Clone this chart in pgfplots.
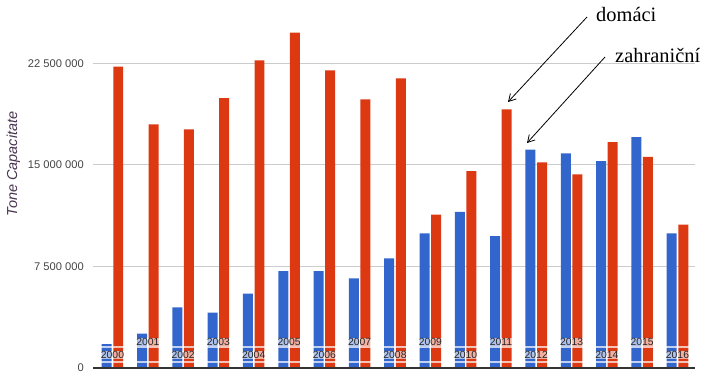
\documentclass[border=0pt]{standalone}
\usepackage{fontspec}
\setmainfont{Liberation Sans}
\newfontfamily\timesfont{Liberation Serif}
\usepackage{pgfplots}
\pgfplotsset{compat=1.18}
\usetikzlibrary{arrows.meta}
\definecolor{gblue}{HTML}{3366CC}
\definecolor{gred}{HTML}{DC3912}
\definecolor{gridc}{HTML}{CCCCCC}
\definecolor{ticklab}{HTML}{444444}
\definecolor{ylab}{HTML}{4A3352}
\definecolor{basec}{HTML}{333333}
\begin{document}
\begin{tikzpicture}[x=1bp,y=1bp]
\useasboundingbox (0,0) rectangle (721,381);
\tikzset{yl/.style={fill=white, fill opacity=0.6, text opacity=1, inner sep=0.8bp,
  font=\fontsize{10.4}{11}\selectfont, text=black!85}}
\begin{axis}[
  at={(93bp,13bp)}, anchor=south west,
  scale only axis, width=602bp, height=368bp,
  xmin=-0.552, xmax=16.496, ymin=0, ymax=27165000,
  clip=false,
  axis line style={draw=none},
  xtick=\empty,
  ytick={0,7500000,15000000,22500000},
  yticklabels={0,7 500 000,15 000 000,22 500 000},
  scaled y ticks=false,
  ymajorgrids,
  major grid style={gridc, line width=1bp},
  tick style={draw=none},
  major tick length=0pt,
  yticklabel style={font=\fontsize{11.2}{12}\selectfont, text=ticklab, inner sep=0pt, anchor=east, xshift=-9bp},
]
\addplot[ybar, fill=gblue, draw=none, bar width=0.283, bar shift=-0.163] coordinates {
(0,1770000) (1,2530000) (2,4480000) (3,4080000) (4,5490000) (5,7160000)
(6,7160000) (7,6620000) (8,8100000) (9,9940000) (10,11520000) (11,9740000)
(12,16120000) (13,15850000) (14,15280000) (15,17050000) (16,9940000)};
\addplot[ybar, fill=gred, draw=none, bar width=0.283, bar shift=0.163] coordinates {
(0,22240000) (1,17990000) (2,17620000) (3,19930000) (4,22710000) (5,24750000)
(6,21970000) (7,19830000) (8,21380000) (9,11320000) (10,14540000) (11,19090000)
(12,15180000) (13,14300000) (14,16680000) (15,15580000) (16,10580000)};
\draw[white, opacity=0.7, line width=1.5bp] (axis cs:-0.552,1550000) -- (axis cs:16.496,1550000);
\draw[white, opacity=0.7, line width=1.5bp] (axis cs:-0.552,443000) -- (axis cs:16.496,443000);
\draw[basec, line width=1.2bp] (rel axis cs:0,0) -- (rel axis cs:1,0);
\node[yl] at (axis cs:0,960000) {2000};
\node[yl] at (axis cs:1,1920000) {2001};
\node[yl] at (axis cs:2,960000) {2002};
\node[yl] at (axis cs:3,1920000) {2003};
\node[yl] at (axis cs:4,960000) {2004};
\node[yl] at (axis cs:5,1920000) {2005};
\node[yl] at (axis cs:6,960000) {2006};
\node[yl] at (axis cs:7,1920000) {2007};
\node[yl] at (axis cs:8,960000) {2008};
\node[yl] at (axis cs:9,1920000) {2009};
\node[yl] at (axis cs:10,960000) {2010};
\node[yl] at (axis cs:11,1920000) {2011};
\node[yl] at (axis cs:12,960000) {2012};
\node[yl] at (axis cs:13,1920000) {2013};
\node[yl] at (axis cs:14,960000) {2014};
\node[yl] at (axis cs:15,1920000) {2015};
\node[yl] at (axis cs:16,960000) {2016};
\end{axis}
\node[rotate=90, anchor=base, inner sep=0, text=ylab, font=\itshape\fontsize{14.5}{16}\selectfont] at (17,217) {Tone Capacitate};
\node[anchor=base west, inner sep=0, font=\timesfont\fontsize{20.5}{22}\selectfont] at (596,360) {domáci};
\node[anchor=base west, inner sep=0, font=\timesfont\fontsize{20.5}{22}\selectfont] at (615,319) {zahraniční};
\draw[line width=0.8bp, -{Straight Barb[length=7bp,width=8bp]}] (587,364) -- (508,279);
\draw[line width=0.8bp, -{Straight Barb[length=7bp,width=8bp]}] (605,324) -- (527,238);
\end{tikzpicture}
\end{document}
